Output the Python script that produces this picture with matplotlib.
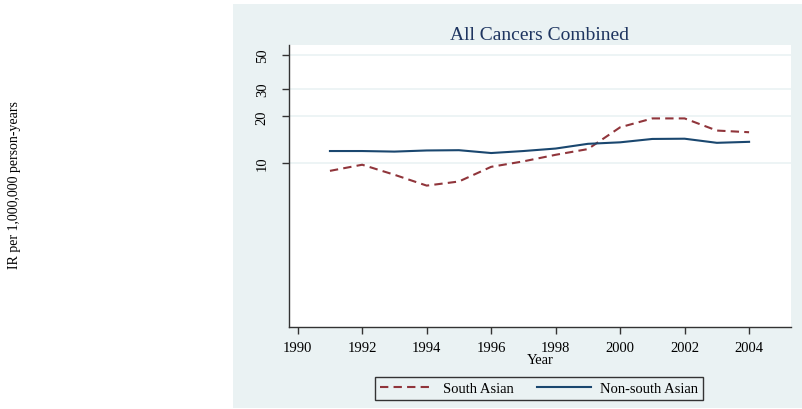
import numpy as np
import matplotlib
matplotlib.use("Agg")
import matplotlib.pyplot as plt

# values (IR per 1,000,000 person-years)
years = [1991, 1992, 1993, 1994, 1995, 1996, 1997, 1998, 1999, 2000, 2001, 2002, 2003, 2004]
south_asian = [8.9, 9.75, 8.4, 7.15, 7.6, 9.45, 10.25, 11.3, 12.3, 17.0, 19.4, 19.4, 16.2, 15.8]
non_south_asian = [11.95, 11.95, 11.85, 12.05, 12.1, 11.6, 11.95, 12.4, 13.3, 13.6, 14.3, 14.35, 13.5, 13.7]
yticks = [10, 20, 30, 50]
xticks = [1990, 1992, 1994, 1996, 1998, 2000, 2002, 2004]

bg = "#eaf2f3"
navy = "#1a476f"
maroon = "#90353b"

plt.rcParams['font.family'] = ['Liberation Serif', 'DejaVu Serif']

W, H = 803, 410
fig = plt.figure(figsize=(W / 100, H / 100), dpi=100, facecolor="white")

# stata graph region behind the plot
bg_ax = fig.add_axes([233 / W, 1 - 409 / H, (W - 233) / W, (409 - 5) / H], zorder=-1)
bg_ax.set_facecolor(bg)
bg_ax.set_xticks([])
bg_ax.set_yticks([])
for s in bg_ax.spines.values():
    s.set_visible(False)

ax = fig.add_axes([289 / W, 1 - 328 / H, (791 - 289) / W, (328 - 45.7) / H])
ax.set_facecolor("white")

ax.plot(years, south_asian, color=maroon, ls=(0, (4, 2.5)), lw=1.5, label="South Asian")
ax.plot(years, non_south_asian, color=navy, lw=1.5, label="Non-south Asian")

ax.set_yscale("log")
ax.set_ylim(0.875, 58)
ax.set_xlim(1989.73, 2005.3)
ax.set_yticks(yticks)
ax.set_yticklabels([str(t) for t in yticks], rotation=90, va="center", fontsize=10.5)
ax.yaxis.set_minor_locator(matplotlib.ticker.NullLocator())
ax.set_xticks(xticks)
ax.set_xticklabels([str(t) for t in xticks], fontsize=10.5)
ax.grid(axis="y", color=bg, lw=1.2)
ax.set_axisbelow(True)

for s in ["top", "right"]:
    ax.spines[s].set_visible(False)
for s in ["left", "bottom"]:
    ax.spines[s].set_color("#333333")
    ax.spines[s].set_linewidth(1.0)
ax.tick_params(length=5, width=1, color="#333333")
ax.tick_params(axis="x", pad=5)
ax.tick_params(axis="y", pad=9.5)

ax.set_title("All Cancers Combined", fontsize=14, color="#1e3560", pad=4)
ax.set_xlabel("Year", fontsize=10.5, labelpad=-1)
fig.text(15 / W, 1 - 185 / H, "IR per 1,000,000 person-years", rotation=90,
         ha="center", va="center", fontsize=10)

leg = fig.legend(loc="center", bbox_to_anchor=(539 / W, 1 - 389.5 / H), ncol=2,
                 fontsize=10.5, frameon=True, fancybox=False, handlelength=3.7,
                 columnspacing=1.6, borderpad=0.35, handletextpad=0.6)
leg.get_frame().set_edgecolor("#333333")
leg.get_frame().set_facecolor(bg)
leg.get_frame().set_alpha(1)
leg.get_frame().set_linewidth(1.0)

fig.savefig("out.png", dpi=100, facecolor="white")
